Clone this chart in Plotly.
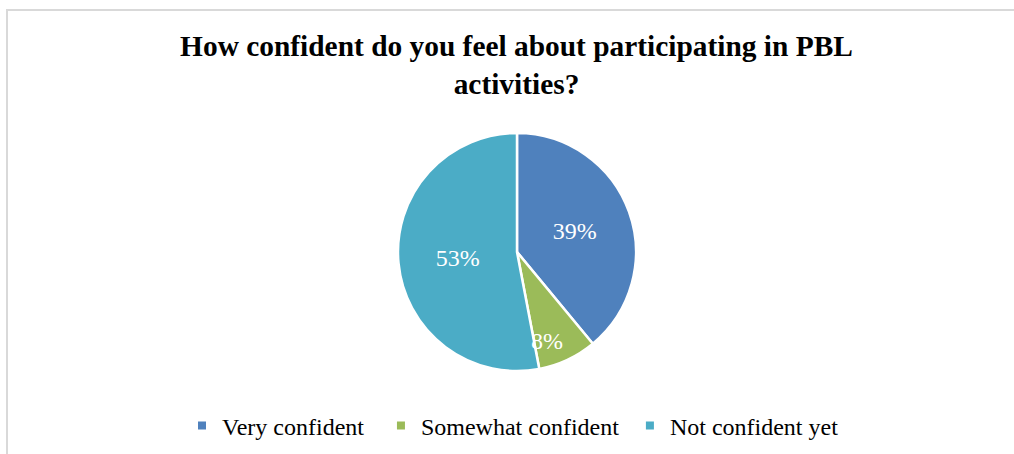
import math
import plotly.graph_objects as go

# Survey responses
categories = ["Very confident", "Somewhat confident", "Not confident yet"]
shares = [39, 8, 53]
colors = ["#4F81BD", "#9BBB59", "#4BACC6"]
title_text = "How confident do you feel about participating in PBL<br>activities?"

W, H = 1014, 454
serif = "Liberation Serif, Times New Roman, serif"

# pie geometry (pixels)
cx, cy, R = 517, 252, 119

fig = go.Figure()

fig.add_trace(go.Pie(
    labels=categories,
    values=shares,
    sort=False,
    direction="clockwise",
    rotation=0,
    marker=dict(colors=colors, line=dict(color="white", width=2.5)),
    texttemplate="%{value}%",
    # the narrow slice gets its label placed separately below
    textposition=["inside", "none", "inside"],
    insidetextorientation="horizontal",
    textfont=dict(family=serif, size=24, color="white"),
    domain=dict(x=[(cx - R) / W, (cx + R) / W],
                y=[1 - (cy + R) / H, 1 - (cy - R) / H]),
    showlegend=False,
    hoverinfo="label+percent",
))

# label for the small slice: pushed toward its trailing edge, near the rim
total = sum(shares)
start = sum(shares[:1]) / total * 360
span = shares[1] / total * 360
ang = math.radians(start + 0.73 * span)
r = 0.79 * R
lx = cx + r * math.sin(ang)
ly = cy - r * math.cos(ang)

annotations = [dict(
    text=f"{shares[1]}%", x=lx / W, y=1 - ly / H,
    xref="paper", yref="paper", xanchor="center", yanchor="middle",
    showarrow=False, font=dict(family=serif, size=24, color="white"),
)]

# legend entries with small square swatches; trailing no-break spaces
# widen the gaps between entries
gap_pad = [2, 1, 0]
for name, col, pad in zip(categories, colors, gap_pad):
    fig.add_trace(go.Scatter(
        x=[None], y=[None], mode="markers", name=name + "\u00a0" * pad,
        marker=dict(symbol="square", size=8, color=col),
        showlegend=True,
    ))

fig.update_layout(
    width=W, height=H,
    margin=dict(l=0, r=0, t=0, b=0),
    paper_bgcolor="white",
    plot_bgcolor="white",
    xaxis=dict(visible=False),
    yaxis=dict(visible=False),
    title=dict(
        text=title_text,
        x=516.5 / W, xanchor="center",
        y=1 - 56 / H, yanchor="top",
        xref="paper", yref="paper",
        font=dict(family=serif, size=29.4, color="black", weight="bold"),
    ),
    legend=dict(
        orientation="h",
        x=182 / W, xanchor="left",
        y=1 - 426 / H, yanchor="middle",
        font=dict(family=serif, size=24, color="black"),
        itemsizing="trace",
    ),
    annotations=annotations,
    shapes=[
        # chart frame (top and left edges visible)
        dict(type="rect", xref="paper", yref="paper",
             x0=7 / W, x1=1.05, y0=-0.05, y1=1 - 10 / H,
             line=dict(color="#D9D9D9", width=2)),
    ],
)

fig.write_html("out.html")
